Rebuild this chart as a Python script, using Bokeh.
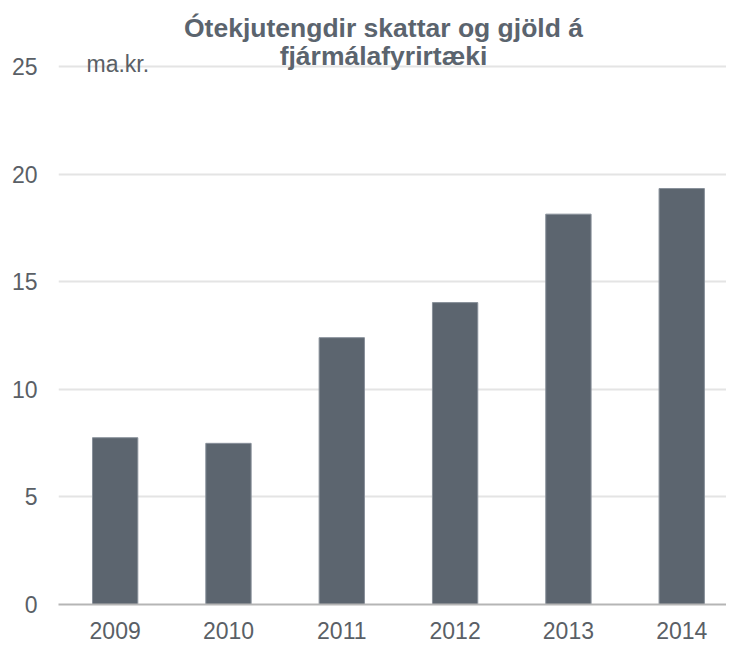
from bokeh.plotting import figure
from bokeh.models import Range1d, FixedTicker, Label
from bokeh.embed import file_html
from bokeh.resources import INLINE

# Data
years = ["2009", "2010", "2011", "2012", "2013", "2014"]
values = [7.75, 7.49, 12.40, 14.03, 18.14, 19.33]
y_ticks = [0, 5, 10, 15, 20, 25]
title_lines = ["Ótekjutengdir skattar og gjöld á", "fjármálafyrirtæki"]
unit_label = "ma.kr."

xs = list(range(len(years)))

FONT = "Liberation Sans"
LABEL_COLOR = "#5a5f66"
BAR_COLOR = "#5c656f"
TITLE_COLOR = "#5b646e"

p = figure(width=726, height=644, output_backend="svg", toolbar_location=None,
           x_range=Range1d(-0.5, 5.395), y_range=Range1d(0, 27.744),
           min_border_left=58, min_border_right=0, min_border_top=7, min_border_bottom=40)
p.title.visible = False
p.outline_line_color = None
p.background_fill_color = "white"
p.border_fill_color = "white"

p.vbar(x=xs, top=values, width=0.4, fill_color=BAR_COLOR, line_color="#88909a", line_width=1)

# axes
p.xaxis.ticker = FixedTicker(ticks=xs)
p.xaxis.major_label_overrides = {i: y for i, y in enumerate(years)}
p.xaxis.major_tick_line_color = None
p.xaxis.minor_tick_line_color = None
p.xaxis.axis_line_color = "#b5b5b5"
p.xaxis.axis_line_width = 2
p.xaxis.major_label_text_font = FONT
p.xaxis.major_label_text_font_size = "23px"
p.xaxis.major_label_text_color = LABEL_COLOR
p.xaxis.major_label_standoff = 11

p.yaxis.ticker = FixedTicker(ticks=y_ticks)
p.yaxis.major_tick_line_color = None
p.yaxis.minor_tick_line_color = None
p.yaxis.axis_line_color = None
p.yaxis.major_label_text_font = FONT
p.yaxis.major_label_text_font_size = "23px"
p.yaxis.major_label_text_color = LABEL_COLOR
p.yaxis.major_label_standoff = 15

p.xgrid.grid_line_color = None
p.ygrid.grid_line_color = "#e4e4e4"
p.ygrid.grid_line_width = 2

# title and unit labels
title_y = [26.79, 25.49]
for line, ty in zip(title_lines, title_y):
    p.add_layout(Label(x=2.368, y=ty, text=line, text_align="center", text_baseline="alphabetic",
                       text_font=FONT, text_font_style="bold", text_font_size="26.5px",
                       text_color=TITLE_COLOR))
p.add_layout(Label(x=-0.253, y=25.12, text=unit_label, text_align="left", text_baseline="alphabetic",
                   text_font=FONT, text_font_size="23px", text_color=LABEL_COLOR))

open("out.html", "w").write(file_html(p, INLINE))
